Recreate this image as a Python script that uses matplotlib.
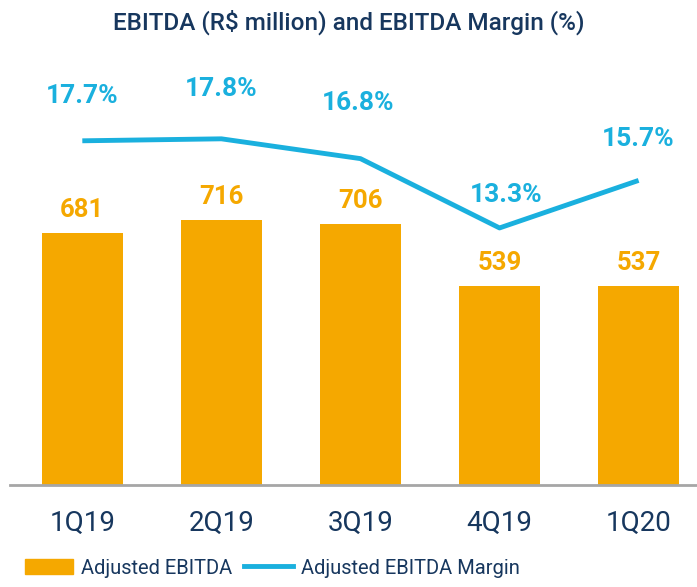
import matplotlib.pyplot as plt
from matplotlib.patches import Patch
from matplotlib.lines import Line2D

quarters = ['1Q19', '2Q19', '3Q19', '4Q19', '1Q20']
ebitda = [681, 716, 706, 539, 537]
margin = [17.7, 17.8, 16.8, 13.3, 15.7]

orange = '#F5A800'
blue = '#1AB0DE'
navy = '#17375E'

plt.rcParams['font.family'] = ['Roboto', 'DejaVu Sans']

fig = plt.figure(figsize=(6.97, 5.87), dpi=100)
ax = fig.add_axes([10 / 697, 102 / 587, 687 / 697, 425 / 587])
x = list(range(len(quarters)))

ax.bar(x, ebitda, width=0.58, color=orange, zorder=2)
ax.set_ylim(0, 1149)
ax.set_xlim(-0.52, 4.42)
for xi, v in zip(x, ebitda):
    ax.annotate(str(v), (xi, v), xytext=(0, 8), textcoords='offset points',
                ha='center', va='bottom', fontsize=18.5, fontweight='bold', color=orange)

for s in ['top', 'right', 'left']:
    ax.spines[s].set_visible(False)
ax.spines['bottom'].set_color('#A6A6A6')
ax.spines['bottom'].set_linewidth(2)
ax.set_yticks([])
ax.set_xticks(x)
ax.set_xticklabels(quarters, fontsize=20, color=navy)
ax.tick_params(axis='x', length=0, pad=18)

ax2 = ax.twinx()
ax2.plot(x, margin, color=blue, linewidth=3.5, solid_capstyle='butt')
ax2.set_ylim(0.32, 21.78)
ax2.set_yticks([])
for s in ax2.spines.values():
    s.set_visible(False)
label_offsets = [(0, 32), (0, 36), (-2, 40), (5, 24), (0, 30)]
for xi, m, off in zip(x, margin, label_offsets):
    ax2.annotate(f'{m:.1f}%', (xi, m), xytext=off, textcoords='offset points',
                 ha='center', va='center', fontsize=19, fontweight='bold', color=blue)

fig.text(0.5, 1 - 22 / 587, 'EBITDA (R$ million) and EBITDA Margin (%)',
         ha='center', va='center', fontsize=17.5, fontweight='medium', color=navy)

handles = [Patch(color=orange, label='Adjusted EBITDA'),
           Line2D([0], [0], color=blue, linewidth=3.5, label='Adjusted EBITDA Margin')]
fig.legend(handles=handles, loc='center', bbox_to_anchor=(272 / 697, 1 - 568 / 587), ncol=2,
           frameon=False, fontsize=14.5, labelcolor=navy, handlelength=2.4,
           columnspacing=0.6, handletextpad=0.4)

fig.savefig('out.png', dpi=100)
